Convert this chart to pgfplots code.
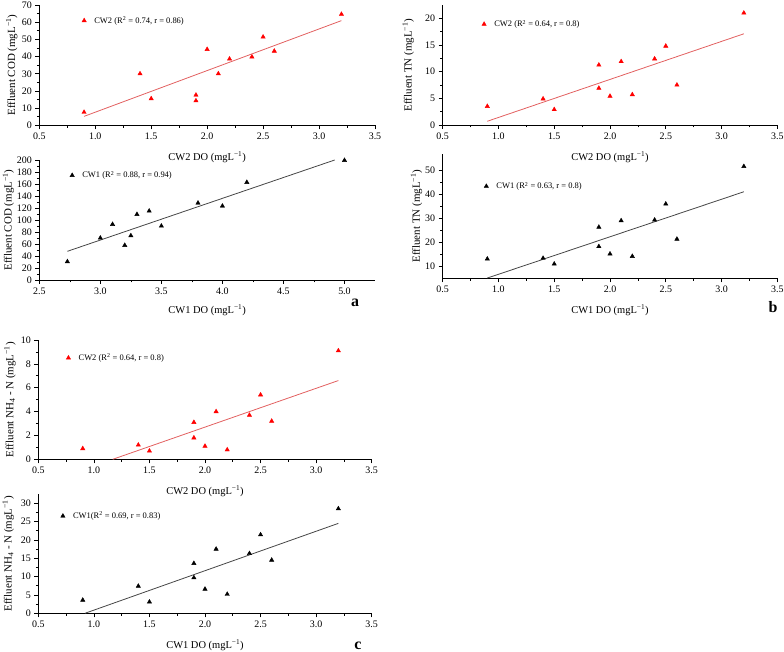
\documentclass[border=0pt]{standalone}
\usepackage{fontspec}
\setmainfont{Liberation Serif}
\usepackage{pgfplots}
\pgfplotsset{compat=1.18}
\definecolor{redm}{RGB}{255,0,0}
\definecolor{redl}{RGB}{226,96,96}
\definecolor{grayl}{RGB}{70,70,70}
\pgfplotsset{
  panel/.style={
    scale only axis, anchor=south west,
    axis x line*=bottom, axis y line*=left,
    axis line style={-, line width=0.7bp},
    tick align=outside,
    major tick length=4bp, minor tick length=2.5bp,
    every tick/.style={black, line width=0.6bp},
    minor x tick num=1, minor y tick num=1,
    /pgf/number format/assume math mode=true,
    tick label style={font=\fontsize{10}{12}\selectfont},
    label style={font=\fontsize{10.5}{12}\selectfont},
    ylabel style={font=\fontsize{11}{12}\selectfont},
    xticklabel style={/pgf/number format/.cd, fixed, fixed zerofill, precision=1, assume math mode=true},
    yticklabel style={/pgf/number format/.cd, fixed, precision=0, assume math mode=true},
    xlabel style={at={(axis description cs:0.5,-0.265)}, anchor=center},
    clip=false,
    legend style={draw=none, fill=none, inner sep=0pt, anchor=west, font=\fontsize{8.5}{9}\selectfont},
    legend image code/.code={\draw[#1] plot coordinates {(0bp,0bp)};},
  },
  redpts/.style={only marks, mark=triangle*, mark size=2.5bp, mark options={draw=redm, fill=redm}},
  blkpts/.style={only marks, mark=triangle*, mark size=2.5bp, mark options={draw=black, fill=black}},
  redline/.style={redl, line width=0.8bp, no marks, forget plot},
  blkline/.style={grayl, line width=0.8bp, no marks, forget plot},
}
\begin{document}
\begin{tikzpicture}
\useasboundingbox (0,0) rectangle (784bp,652bp);
% Panel 1: CW2 COD
\begin{axis}[panel, at={(39.3bp,526.7bp)}, width=335.7bp, height=120.3bp,
  xmin=0.5, xmax=3.5, ymin=0, ymax=70,
  xtick={0.5,1.0,1.5,2.0,2.5,3.0,3.5}, ytick={0,10,...,70},
  xlabel={CW2 DO (mgL\textsuperscript{−1})},
  ylabel={Effluent COD (mgL\textsuperscript{−1})},
  ylabel style={at={(axis description cs:-0.082,0.5)}, anchor=center},
  legend style={at={(axis cs:0.88,60.9)}}]
\addplot[redpts] coordinates {
 (0.9,7.6) (1.4,30) (1.5,15.5) (1.9,17.6) (1.9,14.3) (2.0,44.2)
 (2.1,30) (2.2,38.6) (2.4,39.8) (2.5,51.4) (2.6,43.2) (3.2,64.6)};
\addlegendentry{\hspace{6bp}CW2 (R\textsuperscript{2} = 0.74, r = 0.86)}
\addplot[redline] coordinates {(0.9,5.2) (3.2,60.9)};
\end{axis}
% Panel 2: CW1 COD
\begin{axis}[panel, at={(39.3bp,372bp)}, width=335.7bp, height=120bp,
  xmin=2.5, xmax=5.25, ymin=0, ymax=200,
  xtick={2.5,3.0,3.5,4.0,4.5,5.0}, ytick={0,20,...,200},
  xlabel={CW1 DO (mgL\textsuperscript{−1})},
  ylabel={Effluent COD (mgL\textsuperscript{−1})},
  ylabel style={at={(axis description cs:-0.092,0.5)}, anchor=center},
  xlabel style={at={(axis description cs:0.5,-0.25)}},
  legend style={at={(axis cs:2.75,174.4)}}]
\addplot[blkpts] coordinates {
 (2.73,30.6) (3.0,70) (3.1,92.8) (3.2,57.8) (3.25,73.9) (3.3,109.4)
 (3.4,115) (3.5,90) (3.8,128.3) (4.0,123.3) (4.2,162.8) (5.0,199.4)};
\addlegendentry{\hspace{6bp}CW1 (R\textsuperscript{2} = 0.88, r = 0.94)}
\addplot[blkline] coordinates {(2.73,47.8) (4.92,200)};
\end{axis}
% Panel 3: CW2 TN
\begin{axis}[panel, at={(442.7bp,527bp)}, width=334.6bp, height=120bp,
  xmin=0.5, xmax=3.5, ymin=0, ymax=22.5,
  xtick={0.5,1.0,1.5,2.0,2.5,3.0,3.5}, ytick={0,5,...,20},
  xlabel={CW2 DO (mgL\textsuperscript{−1})},
  ylabel={Effluent TN (mgL\textsuperscript{−1})},
  ylabel style={at={(axis description cs:-0.103,0.5)}, anchor=center},
  legend style={at={(axis cs:0.85,18.9)}}]
\addplot[redpts] coordinates {
 (0.9,3.5) (1.4,4.9) (1.5,2.9) (1.9,11.25) (1.9,6.9) (2.0,5.4)
 (2.1,11.9) (2.2,5.7) (2.4,12.4) (2.5,14.8) (2.6,7.5) (3.2,21)};
\addlegendentry{\hspace{6bp}CW2 (R\textsuperscript{2} = 0.64, r = 0.8)}
\addplot[redline] coordinates {(0.9,0.7) (3.2,17.1)};
\end{axis}
% Panel 4: CW1 TN
\begin{axis}[panel, at={(442.7bp,373.7bp)}, width=334.6bp, height=124.3bp,
  xmin=0.5, xmax=3.5, ymin=5, ymax=57,
  xtick={0.5,1.0,1.5,2.0,2.5,3.0,3.5}, ytick={10,20,...,50},
  xlabel={CW1 DO (mgL\textsuperscript{−1})},
  ylabel={Effluent TN (mgL\textsuperscript{−1})},
  ylabel style={at={(axis description cs:-0.078,0.5)}, anchor=center},
  xlabel style={at={(axis description cs:0.5,-0.255)}},
  legend style={at={(axis cs:0.87,43.5)}}]
\addplot[blkpts] coordinates {
 (0.9,13.1) (1.4,13.4) (1.5,11.0) (1.9,26.4) (1.9,18.3) (2.0,15.2)
 (2.1,29.1) (2.2,14.2) (2.4,29.4) (2.5,36.1) (2.6,21.4) (3.2,51.8)};
\addlegendentry{\hspace{6bp}CW1 (R\textsuperscript{2} = 0.63, r = 0.8)}
\addplot[blkline] coordinates {(0.9,5.1) (3.2,41.2)};
\end{axis}
% Panel 5: CW2 NH4
\begin{axis}[panel, at={(38.3bp,192.7bp)}, width=333.4bp, height=119.3bp,
  xmin=0.5, xmax=3.5, ymin=0, ymax=10,
  xtick={0.5,1.0,1.5,2.0,2.5,3.0,3.5}, ytick={0,2,...,10},
  xlabel={CW2 DO (mgL\textsuperscript{−1})},
  ylabel={Effluent NH\textsubscript{4} - N (mgL\textsuperscript{−1})},
  ylabel style={at={(axis description cs:-0.085,0.5)}, anchor=center},
  xlabel style={at={(axis description cs:0.5,-0.27)}},
  legend style={at={(axis cs:0.75,8.5)}}]
\addplot[redpts] coordinates {
 (0.9,0.9) (1.4,1.2) (1.5,0.7) (1.9,3.1) (1.9,1.8) (2.0,1.1)
 (2.1,4.0) (2.2,0.8) (2.4,3.7) (2.5,5.4) (2.6,3.2) (3.2,9.1)};
\addlegendentry{\hspace{6bp}CW2 (R\textsuperscript{2} = 0.64, r = 0.8)}
\addplot[redline] coordinates {(1.17,0) (3.2,6.6)};
\end{axis}
% Panel 6: CW1 NH4
\begin{axis}[panel, at={(38.3bp,38.7bp)}, width=333.4bp, height=119.3bp,
  xmin=0.5, xmax=3.5, ymin=0, ymax=32.5,
  xtick={0.5,1.0,1.5,2.0,2.5,3.0,3.5}, ytick={0,5,...,30},
  xlabel={CW1 DO (mgL\textsuperscript{−1})},
  ylabel={Effluent NH\textsubscript{4} - N (mgL\textsuperscript{−1})},
  ylabel style={at={(axis description cs:-0.09,0.5)}, anchor=center},
  xlabel style={at={(axis description cs:0.5,-0.27)}},
  legend style={at={(axis cs:0.70,26.5)}}]
\addplot[blkpts] coordinates {
 (0.9,3.6) (1.4,7.4) (1.5,3.1) (1.9,13.6) (1.9,9.7) (2.0,6.6)
 (2.1,17.5) (2.2,5.2) (2.4,16.3) (2.5,21.4) (2.6,14.5) (3.2,28.5)};
\addlegendentry{\hspace{6bp}CW1(R\textsuperscript{2} = 0.69, r = 0.83)}
\addplot[blkline] coordinates {(0.92,0) (3.2,24.5)};
\end{axis}
\node[font=\bfseries\fontsize{16}{18}\selectfont] at (355bp,349bp) {a};
\node[font=\bfseries\fontsize{16}{18}\selectfont] at (773bp,345bp) {b};
\node[font=\bfseries\fontsize{16}{18}\selectfont] at (358bp,6bp) {c};
\end{tikzpicture}
\end{document}
